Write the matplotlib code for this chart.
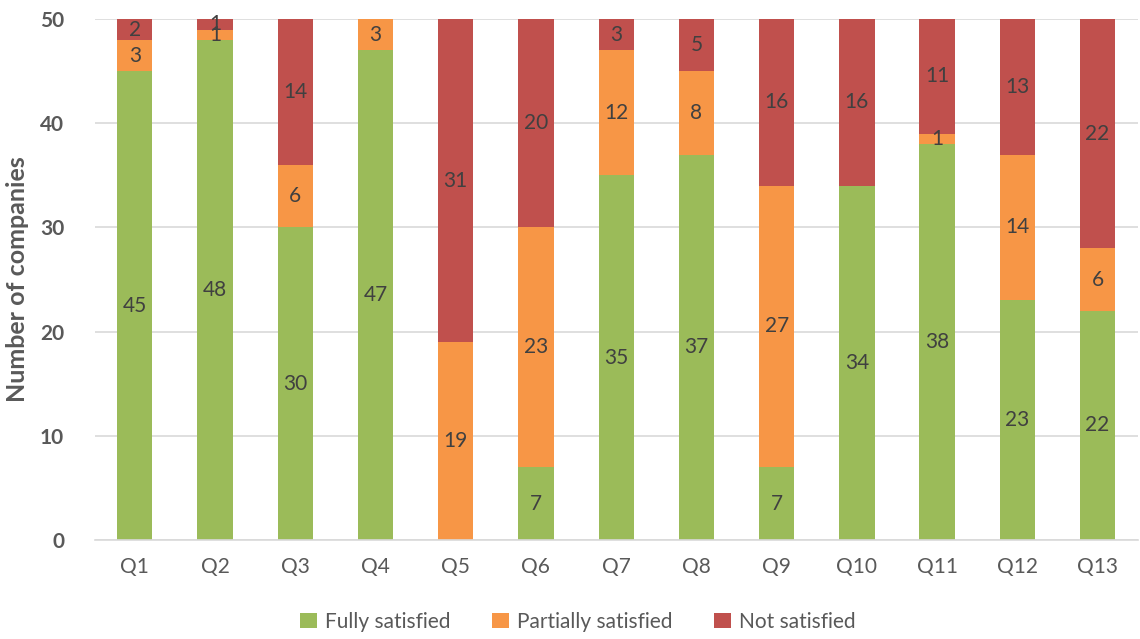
import numpy as np
import matplotlib.pyplot as plt

# Datos
questions = ['Q1', 'Q2', 'Q3', 'Q4', 'Q5', 'Q6', 'Q7', 'Q8', 'Q9', 'Q10', 'Q11', 'Q12', 'Q13']
fully = [45, 48, 30, 47, 0, 7, 35, 37, 7, 34, 38, 23, 22]
partially = [3, 1, 6, 3, 19, 23, 12, 8, 27, 0, 1, 14, 6]
not_sat = [2, 1, 14, 0, 31, 20, 3, 5, 16, 16, 11, 13, 22]

series = [('Fully satisfied', fully, '#9BBB59'),
          ('Partially satisfied', partially, '#F79646'),
          ('Not satisfied', not_sat, '#C0504D')]

plt.rcParams['font.family'] = ['Lato', 'DejaVu Sans']

fig = plt.figure(figsize=(11.4, 6.39), dpi=100)
ax = fig.add_axes([0.083, 0.155, 0.915, 0.815])

x = np.arange(len(questions))
bottom = np.zeros(len(questions))
for name, vals, color in series:
    vals = np.array(vals)
    ax.bar(x, vals, 0.44, bottom=bottom, color=color, label=name, zorder=2)
    for xi, b, v in zip(x, bottom, vals):
        if v > 0:
            ax.text(xi, b + v / 2, str(v), ha='center', va='center',
                    fontsize=15, color='#404040', zorder=3)
    bottom += vals

ax.set_xlim(-0.5, len(questions) - 0.5)
ax.set_ylim(0, 50)
ax.set_yticks([0, 10, 20, 30, 40, 50])
ax.set_xticks(x)
ax.set_xticklabels(questions)
ax.grid(axis='y', color='#D9D9D9', linewidth=1.2, zorder=0)
for s in ['top', 'right', 'left']:
    ax.spines[s].set_visible(False)
ax.spines['bottom'].set_color('#D9D9D9')
ax.spines['bottom'].set_linewidth(1.2)
ax.tick_params(axis='both', length=0, colors='#595959', labelsize=15)
ax.tick_params(axis='x', pad=12)
ax.tick_params(axis='y', pad=22)
for lbl in ax.get_yticklabels():
    lbl.set_fontweight('bold')
ax.set_ylabel('Number of companies', fontsize=18, fontweight='bold', color='#595959', labelpad=8)

fig.legend(loc='lower center', bbox_to_anchor=(0.507, -0.018), ncol=3, frameon=False,
           fontsize=15, labelcolor='#595959', handlelength=0.8, handleheight=0.8,
           columnspacing=2.0, handletextpad=0.4)

fig.savefig('out.png', dpi=100)
